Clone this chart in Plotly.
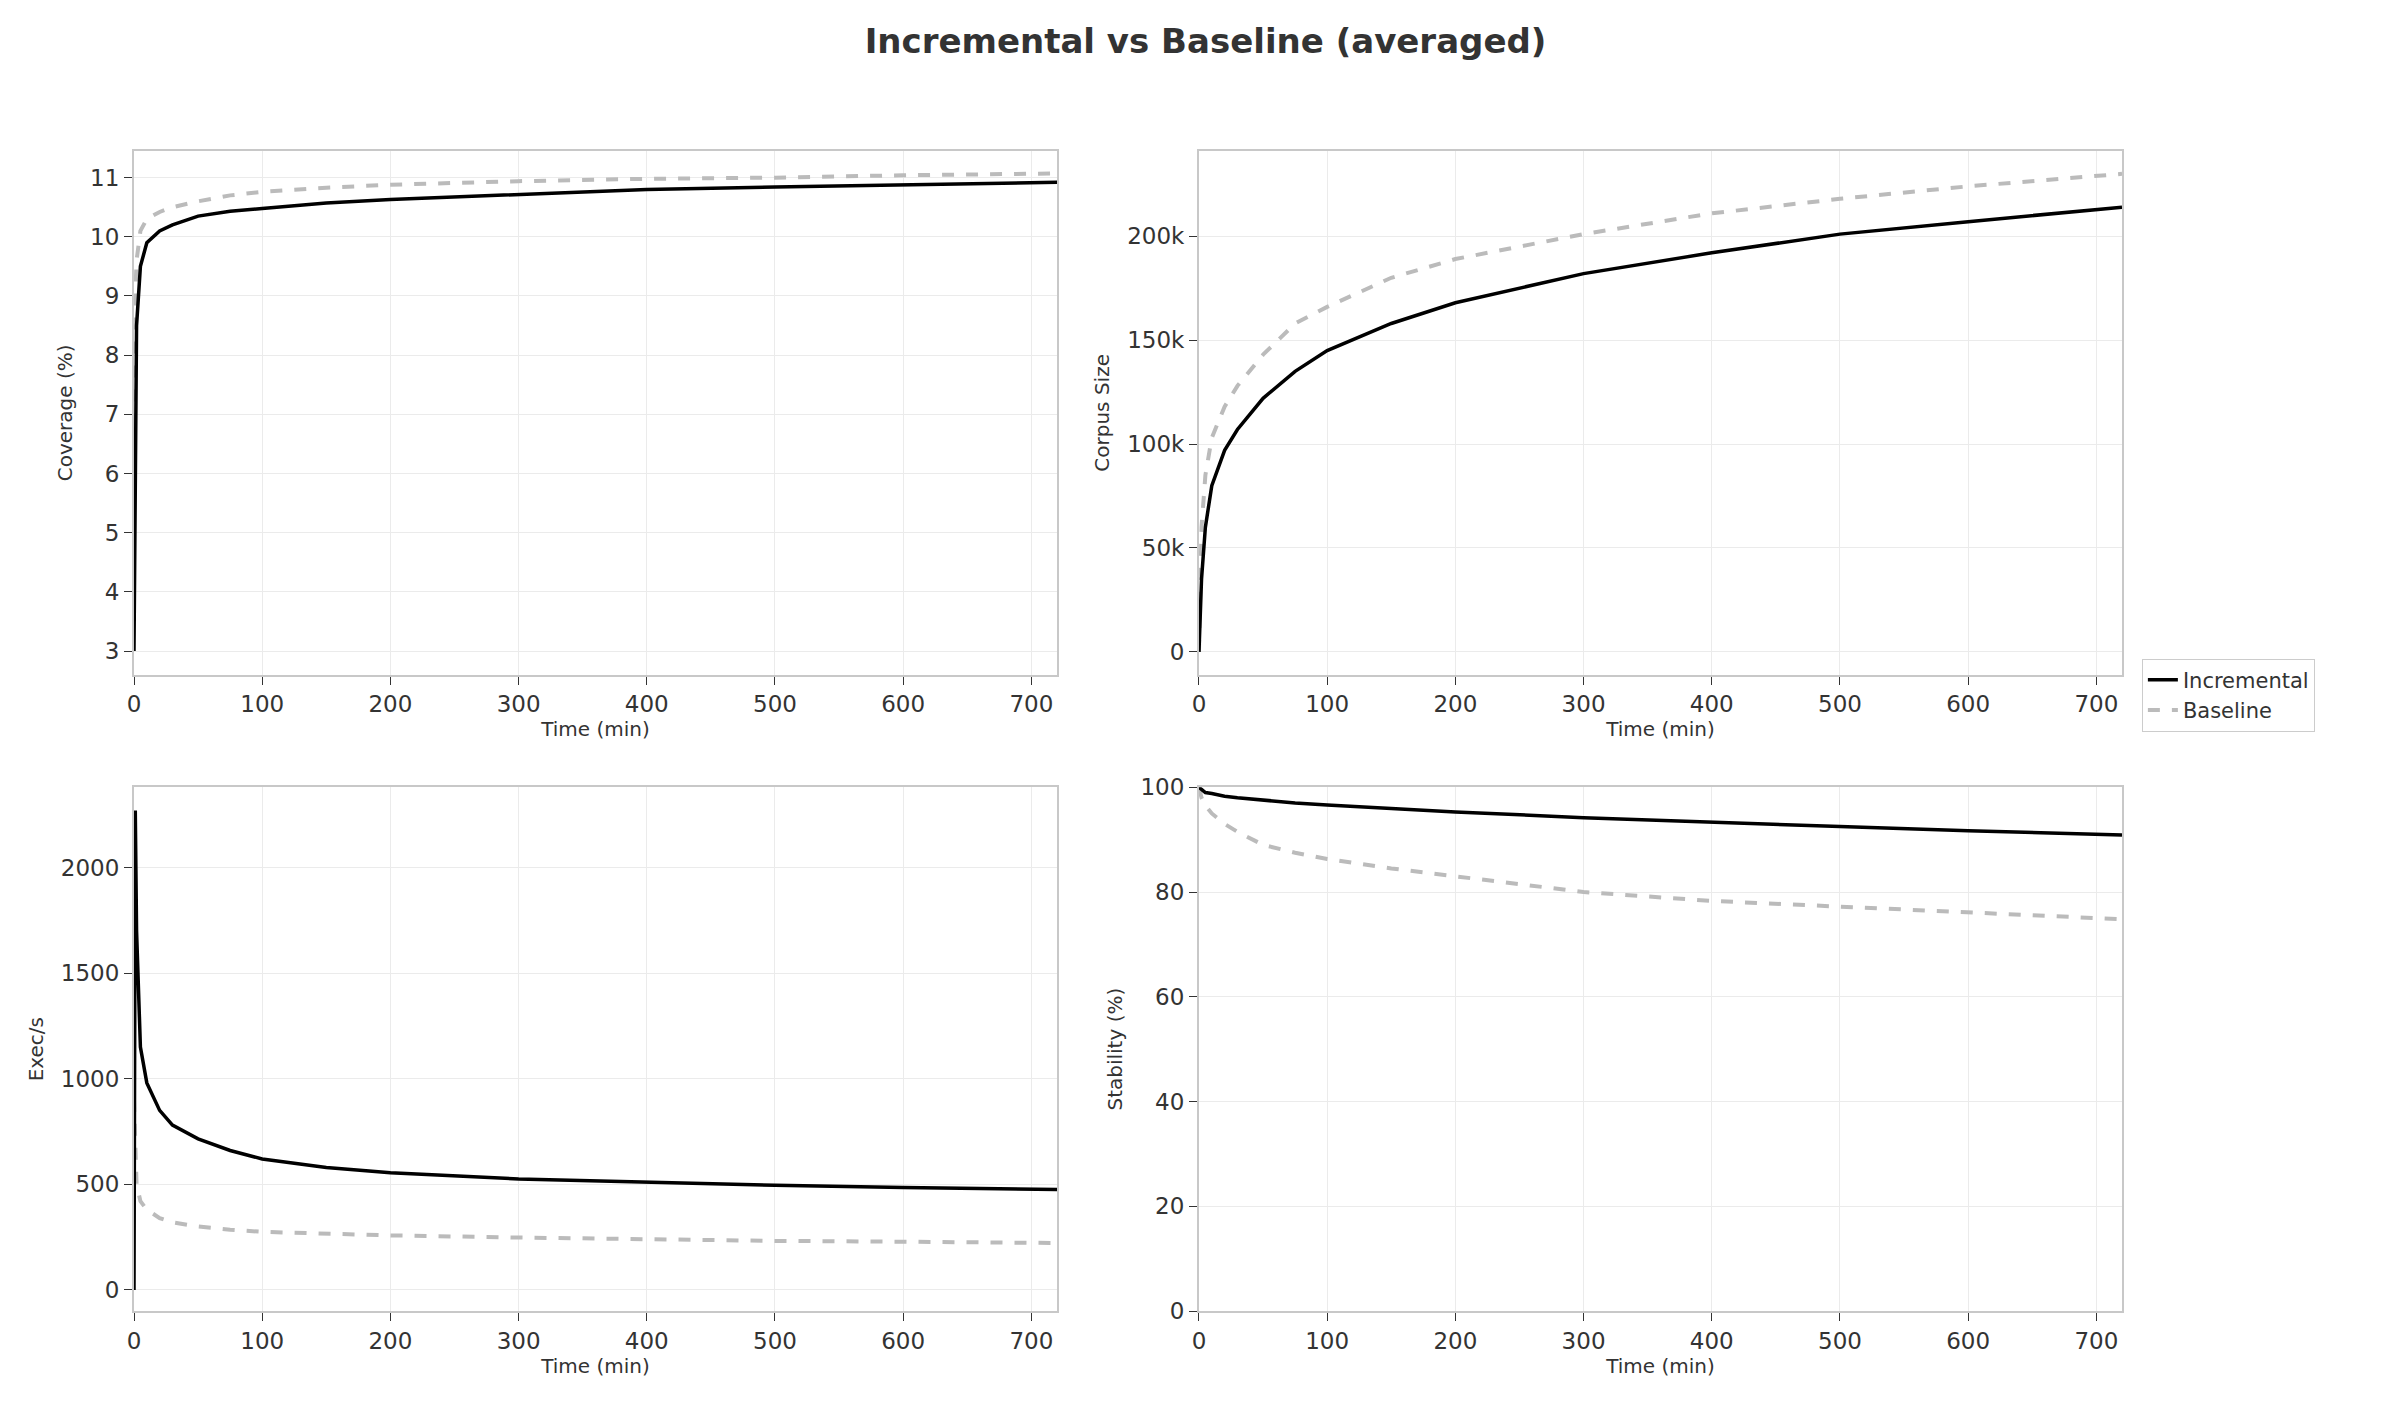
import plotly.graph_objects as go
from plotly.subplots import make_subplots

time_min = [0, 1, 2, 5, 10, 20, 30, 50, 75, 100, 150, 200, 300, 400, 500, 600, 720]

coverage_inc = [3, 6, 8.5, 9.5, 9.9, 10.1, 10.2, 10.35, 10.43, 10.48, 10.57, 10.63, 10.72, 10.8, 10.84, 10.88, 10.92]
coverage_base = [6, 9, 9.6, 10.1, 10.3, 10.42, 10.5, 10.6, 10.7, 10.76, 10.83, 10.88, 10.94, 10.98, 11.0, 11.04, 11.07]
corpus_inc = [0, 20000, 35000, 60000, 80000, 97000, 107000, 122000, 135000, 145000, 158000, 168000, 182000, 192000, 201000, 207000, 214000]
corpus_base = [0, 40000, 60000, 85000, 103000, 118000, 128000, 143000, 158000, 166000, 180000, 189000, 201000, 211000, 218000, 224000, 230000]
exec_inc = [0, 2270, 1700, 1150, 980, 850, 780, 715, 660, 620, 580, 555, 525, 510, 495, 485, 475]
exec_base = [900, 650, 500, 420, 380, 340, 320, 300, 285, 275, 265, 258, 248, 238, 232, 228, 222]
stab_inc = [100, 99.8, 99.6, 99.0, 98.8, 98.3, 98.0, 97.5, 97.0, 96.6, 95.9, 95.3, 94.2, 93.3, 92.5, 91.7, 90.9]
stab_base = [100, 99, 98, 96.5, 95, 93, 91.5, 89, 87.5, 86.3, 84.5, 83, 80, 78.3, 77.2, 76, 74.8]

panels = [
    (1, 1, coverage_inc, coverage_base, "Coverage (%)", [2.6, 11.45], None),
    (1, 2, corpus_inc, corpus_base, "Corpus Size", [-11000, 241000], [0, 50000, 100000, 150000, 200000]),
    (2, 1, exec_inc, exec_base, "Exec/s", [-100, 2380], [0, 500, 1000, 1500, 2000]),
    (2, 2, stab_inc, stab_base, "Stability (%)", [0, 100], [0, 20, 40, 60, 80, 100]),
]

fig = make_subplots(rows=2, cols=2, horizontal_spacing=0.0714, vertical_spacing=0.097)

for i, (r, c, inc, base, label, yrange, ticks) in enumerate(panels):
    fig.add_trace(go.Scatter(x=time_min, y=base, mode="lines", name="Baseline",
                             line=dict(color="#bbbbbb", width=4, dash="dash"),
                             showlegend=(i == 0), legendrank=2), row=r, col=c)
    fig.add_trace(go.Scatter(x=time_min, y=inc, mode="lines", name="Incremental",
                             line=dict(color="black", width=3.5),
                             showlegend=(i == 0), legendrank=1), row=r, col=c)
    fig.update_yaxes(title_text=label, range=yrange, row=r, col=c,
                     tickvals=ticks,
                     ticktext=[f"{int(t/1000)}k" if t else "0" for t in ticks] if label == "Corpus Size" else None)
    fig.update_xaxes(title_text="Time (min)", range=[0, 720], row=r, col=c,
                     tickvals=[0, 100, 200, 300, 400, 500, 600, 700])

fig.update_xaxes(showgrid=True, gridcolor="#ebebeb", showline=True, linecolor="#c8c8c8", linewidth=2,
                 mirror=True, ticks="outside", ticklen=8, tickcolor="#333", zeroline=False,
                 title_font=dict(size=20), title_standoff=6)
fig.update_yaxes(showgrid=True, gridcolor="#ebebeb", showline=True, linecolor="#c8c8c8", linewidth=2,
                 mirror=True, ticks="outside", ticklen=8, tickcolor="#333", zeroline=False,
                 title_font=dict(size=20), title_standoff=12)

fig.update_layout(
    width=2395, height=1404,
    template="plotly_white",
    font=dict(family="DejaVu Sans", size=23, color="#333"),
    title=dict(text="<b>Incremental vs Baseline (averaged)</b>", x=0.5, xanchor="center", y=0.985,
               font=dict(size=34)),
    margin=dict(l=126, r=281, t=143, b=101),
    legend=dict(x=1.01, xanchor="left", y=0.531, yanchor="middle", bordercolor="#ccc", borderwidth=1,
                font=dict(size=21)),
)

fig.write_html("out.html")
